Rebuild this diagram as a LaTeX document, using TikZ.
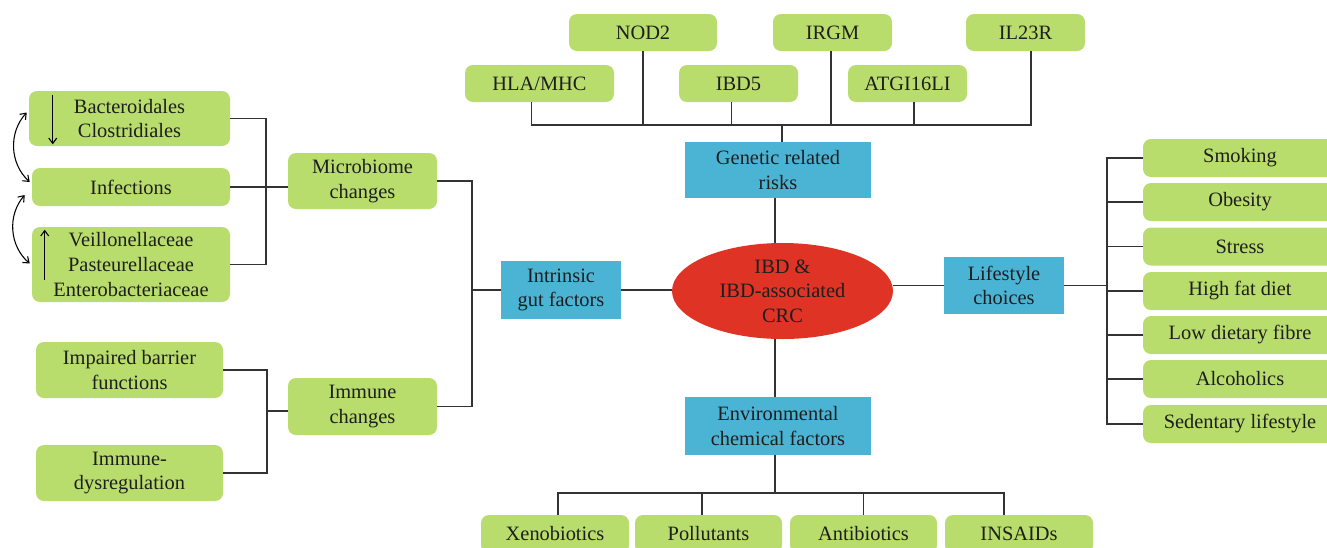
\documentclass[tikz,border=0pt]{standalone}
\usepackage{fontspec}
\setmainfont{Liberation Serif}
\usetikzlibrary{calc,shapes.geometric,arrows.meta}
\definecolor{boxgreen}{HTML}{B9DD6C}
\definecolor{boxblue}{HTML}{4BB4D5}
\definecolor{ellred}{HTML}{DF3326}
\definecolor{linegray}{HTML}{333333}
\definecolor{txt}{HTML}{1E1E1E}
\tikzset{
  sz/.style 2 args={minimum width=#1*0.75pt, minimum height=#2*0.75pt},
  gbox/.style={draw=none, fill=boxgreen, rounded corners=6pt, inner sep=0pt, align=center, text=txt},
  bbox/.style={draw=none, fill=boxblue, inner sep=0pt, align=center, text=txt},
  conn/.style={draw=linegray, line width=1.1pt},
  thinarrow/.style={draw=black, line width=0.8pt, -{Straight Barb[length=4pt,width=6pt]}},
}
\begin{document}
\begin{tikzpicture}[x=0.75pt, y=-0.75pt, font=\fontsize{15.3}{18.4}\selectfont]
\useasboundingbox (0,0) rectangle (1327,547);
% genetic
\node[gbox, sz={148}{37}] (nod2) at (643,32.5) {NOD2};
\node[gbox, sz={119}{37}] (irgm) at (832.5,32.5) {IRGM};
\node[gbox, sz={119}{37}] (il23r) at (1025.5,32.5) {IL23R};
\node[gbox, sz={149}{37}] (hla) at (539.5,83.5) {HLA/MHC};
\node[gbox, sz={119}{37}] (ibd5) at (738.5,83.5) {IBD5};
\node[gbox, sz={119}{37}] (atg) at (907.5,83.5) {ATGI16LI};
\node[bbox, sz={186}{56}] (gen) at (778,170) {Genetic related\\risks};
% centre
\node[ellipse, fill=ellred, draw=none, sz={221}{96}, inner sep=0pt, align=center, text=txt] (ell) at (782.5,291) {IBD \&\\IBD-associated\\CRC};
\node[bbox, sz={120}{58}] (intr) at (561,290) {Intrinsic\\gut factors};
\node[bbox, sz={120}{57}] (life) at (1004,285.5) {Lifestyle\\choices};
\node[bbox, sz={186}{58}] (env) at (778,426) {Environmental\\chemical factors};
% bottom
\node[gbox, sz={148}{38}] (xeno) at (555,534) {Xenobiotics};
\node[gbox, sz={147}{38}] (poll) at (708.5,534) {Pollutants};
\node[gbox, sz={147}{38}] (anti) at (863.5,534) {Antibiotics};
\node[gbox, sz={148}{38}] (nsaid) at (1019,534) {INSAIDs};
% right
\node[gbox, sz={194}{38}] (smok) at (1240,158) {Smoking};
\node[gbox, sz={194}{38}] (obes) at (1240,202) {Obesity};
\node[gbox, sz={194}{38}] (stre) at (1240,246.5) {Stress};
\node[gbox, sz={194}{38}] (hfd) at (1240,291) {High fat diet};
\node[gbox, sz={194}{38}] (ldf) at (1240,335) {Low dietary fibre};
\node[gbox, sz={194}{38}] (alco) at (1240,379) {Alcoholics};
\node[gbox, sz={194}{38}] (sede) at (1240,424) {Sedentary lifestyle};
% left
\node[gbox, sz={201}{55}] (bact) at (129.5,118.5) {Bacteroidales\\Clostridiales};
\node[gbox, sz={198}{38}] (inf) at (131,187) {Infections};
\node[gbox, sz={198}{75}] (veil) at (131,264.5) {Veillonellaceae\\Pasteurellaceae\\Enterobacteriaceae};
\node[gbox, sz={149}{56}] (micro) at (362.5,181) {Microbiome\\changes};
\node[gbox, sz={187}{56}] (imp) at (129.5,370) {Impaired barrier\\functions};
\node[gbox, sz={187}{56}] (dys) at (129.5,473) {Immune-\\dysregulation};
\node[gbox, sz={149}{57}] (imm) at (362.5,406.5) {Immune\\changes};
% coordinates
\coordinate (gbus) at (782,125);
\coordinate (ebus) at (775,493);
\coordinate (rb) at (1107,285.5);
\coordinate (mb) at (266,187);
\coordinate (ib) at (267,411);
\coordinate (lb) at (472,290);
\coordinate (gs) at ($(gen.south)+(-3,0)$);
\coordinate (en) at ($(env.north)+(-3,0)$);
\coordinate (es) at ($(env.south)+(-3,0)$);
% genetic connectors
\draw[conn] ($(hla.south)+(-8,0)$) |- (gbus);
\draw[conn] (nod2.south) |- (gbus);
\draw[conn] ($(ibd5.south)+(-7,0)$) |- (gbus);
\draw[conn] ($(irgm.south)+(-1.5,0)$) |- (gbus);
\draw[conn] ($(atg.south)+(6.5,0)$) |- (gbus);
\draw[conn] ($(il23r.south)+(5.5,0)$) |- (gbus);
\draw[conn] (gbus) -- (gbus |- gen.north);
\draw[conn] (gs) -- (gs |- ell.north);
% environmental
\draw[conn] (en) -- (en |- ell.south);
\draw[conn] (es) -- (ebus);
\draw[conn] ($(xeno.north)+(3,0)$) |- (ebus);
\draw[conn] ($(poll.north)+(-6.5,0)$) |- (ebus);
\draw[conn] (anti.north) |- (ebus);
\draw[conn] ($(nsaid.north)+(-15,0)$) |- (ebus);
% intrinsic
\draw[conn] (intr.east) -- (intr.east -| ell.west);
\draw[conn] (intr.west) -- (lb);
\draw[conn] (micro.east) -| (lb) |- (imm.east);
% lifestyle
\draw[conn] (life.west -| ell.east) -- (life.west);
\draw[conn] (life.east) -- (rb);
\foreach \n in {smok,obes,stre,hfd,ldf,alco,sede}{\draw[conn] (\n.west) -| (rb);}
% microbiome group
\draw[conn] (bact.east) -| (mb);
\draw[conn] (veil.east) -| (mb);
\draw[conn] (inf.east) -- (inf.east -| micro.west);
% immune group
\draw[conn] (imp.east) -| (ib);
\draw[conn] (dys.east) -| (ib);
\draw[conn] (ib) -- (ib -| imm.west);
% arrows inside boxes
\coordinate (da1) at ($(bact.north west)+(24,4)$);
\coordinate (da2) at ($(bact.south west)+(24,-2)$);
\draw[thinarrow] (da1) -- (da2);
\coordinate (ua1) at ($(veil.south west)+(13,-22)$);
\coordinate (ua2) at ($(veil.north west)+(13,3)$);
\draw[thinarrow] (ua1) -- (ua2);
% curved double arrows
\draw[thinarrow, {Straight Barb[length=4pt,width=6pt]}-{Straight Barb[length=4pt,width=6pt]}] ($(bact.west)+(-2,-6)$) to[bend right=45] ($(inf.west)+(-2,-5)$);
\draw[thinarrow, {Straight Barb[length=4pt,width=6pt]}-{Straight Barb[length=4pt,width=6pt]}] ($(inf.west)+(-7,8)$) to[bend right=45] ($(veil.west)+(-2,-1)$);
\end{tikzpicture}
\end{document}
